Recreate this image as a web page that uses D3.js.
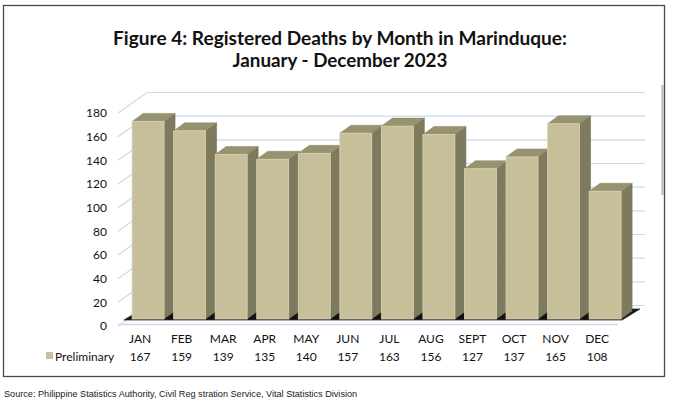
<!DOCTYPE html>
<html>
<head>
<meta charset="utf-8">
<script src="https://cdn.jsdelivr.net/npm/d3@7"></script>
<style>
  html, body { margin: 0; padding: 0; background: #fff; }
  svg { display: block; }
</style>
</head>
<body>
<script>
// ---- data ----
const months = ["JAN","FEB","MAR","APR","MAY","JUN","JUL","AUG","SEPT","OCT","NOV","DEC"];
const deaths = [167,159,139,135,140,157,163,156,127,137,165,108];
const yTicks = [0,20,40,60,80,100,120,140,160,180];
const seriesName = "Preliminary";
const titleLines = ["Figure 4: Registered Deaths by Month in Marinduque:", "January - December 2023"];
const sourceText = "Source: Philippine Statistics Authority, Civil Reg stration Service, Vital Statistics Division";

// ---- layout ----
const W = 674, H = 404;
const svg = d3.select("body").append("svg").attr("width", W).attr("height", H);

const yFront = d3.scaleLinear().domain([0, 180]).range([326, 113]);
const x = d3.scaleBand().domain(months).range([127.3, 625.9]).paddingInner(0.23).paddingOuter(0.115);
const wallDX = 29, wallDY = -20.5;   // depth of side wall
const barOffDY = -7;                  // bars sit slightly behind front
const sideDX = 11, sideDY = -8;       // bar depth
const gridColor = "#c9daf0";
const cFront = "#c7bf99", cSide = "#7e7a5d", cTop = "#98936f";

// frame
svg.append("rect").attr("x", 3.5).attr("y", 5.5).attr("width", 661).attr("height", 371)
  .attr("fill", "none").attr("stroke", "#4a4a4a").attr("stroke-width", 1.3);
svg.append("line").attr("x1", 662.5).attr("x2", 662.5).attr("y1", 85).attr("y2", 195)
  .attr("stroke", "#b5b5b5").attr("stroke-width", 2);

// title
const title = svg.append("g");
titleLines.forEach((t, i) => {
  title.append("text").attr("x", 340).attr("y", 45 + i * 22)
    .attr("text-anchor", "middle")
    .attr("font-family", "Lato, 'Open Sans', sans-serif").attr("font-weight", 700)
    .attr("font-size", 19.5).attr("fill", "#111").text(t);
});

// gridlines (side wall diagonal + back wall)
svg.append("g").selectAll("path").data(yTicks).join("path")
  .attr("d", v => {
    const yf = yFront(v);
    return `M118,${yf} L${118 + wallDX},${yf + wallDY} L645,${yf + wallDY}`;
  })
  .attr("fill", "none").attr("stroke", gridColor).attr("stroke-width", 1.2);

// y axis labels
svg.append("g").selectAll("text").data(yTicks).join("text")
  .attr("x", 107).attr("y", v => yFront(v) + 4.3)
  .attr("text-anchor", "end")
  .attr("font-family", "Lato, sans-serif").attr("font-size", 12).attr("fill", "#111")
  .text(v => v);

// floor front edge
svg.append("line").attr("x1", 118).attr("x2", 618).attr("y1", 324.5).attr("y2", 324.5)
  .attr("stroke", gridColor).attr("stroke-width", 1.3);
// floor slab
svg.append("path")
  .attr("d", "M124,320 L622,320 L640,309 L142,309 Z")
  .attr("fill", "#111").attr("stroke", "#333").attr("stroke-width", 0.8);

// bars
const bars = svg.append("g").selectAll("g").data(months).join("g");
const bw = x.bandwidth();
bars.each(function(m, i) {
  const g = d3.select(this);
  const x0 = x(m), x1 = x0 + bw;
  const yb = yFront(0) + barOffDY;
  const yt = yFront(deaths[i]) + barOffDY;
  // side
  g.append("path").attr("d", `M${x1},${yt} L${x1 + sideDX},${yt + sideDY} L${x1 + sideDX},${yb + sideDY} L${x1},${yb} Z`)
    .attr("fill", cSide).attr("stroke", "#6e6a50").attr("stroke-width", 0.5);
  // top
  g.append("path").attr("d", `M${x0},${yt} L${x0 + sideDX},${yt + sideDY} L${x1 + sideDX},${yt + sideDY} L${x1},${yt} Z`)
    .attr("fill", cTop).attr("stroke", "#8a8566").attr("stroke-width", 0.5);
  // front
  g.append("rect").attr("x", x0).attr("y", yt).attr("width", bw).attr("height", yb - yt)
    .attr("fill", cFront).attr("stroke", "#d9d3b3").attr("stroke-width", 0.8);
});

// data table: categories
svg.append("g").selectAll("text").data(months).join("text")
  .attr("x", m => x(m) + bw / 2 - 8).attr("y", 342.5)
  .attr("text-anchor", "middle")
  .attr("font-family", "Lato, sans-serif").attr("font-size", 12).attr("fill", "#111")
  .text(m => m);
// values
svg.append("g").selectAll("text").data(deaths).join("text")
  .attr("x", (d, i) => x(months[i]) + bw / 2 - 8).attr("y", 360.5)
  .attr("text-anchor", "middle")
  .attr("font-family", "Lato, sans-serif").attr("font-size", 12).attr("fill", "#111")
  .text(d => d);
// legend key
svg.append("rect").attr("x", 46).attr("y", 352).attr("width", 7).attr("height", 7).attr("fill", cFront);
svg.append("text").attr("x", 55).attr("y", 360.5)
  .attr("font-family", "Lato, sans-serif").attr("font-size", 12).attr("fill", "#111")
  .text(seriesName);

// source
const src = svg.append("text").attr("x", 4).attr("y", 397)
  .attr("font-family", "'Liberation Sans', Arial, sans-serif").attr("font-size", 9).attr("fill", "#222")
  .text(sourceText);
const sw = src.node().getComputedTextLength();
src.attr("font-size", 9 * 354 / sw);

// fit title width
title.selectAll("text").each(function(d, i) {
  const target = i === 0 ? 454 : 215;
  const w = this.getComputedTextLength();
  d3.select(this).attr("font-size", 19.5 * target / w);
});
</script>
</body>
</html>
